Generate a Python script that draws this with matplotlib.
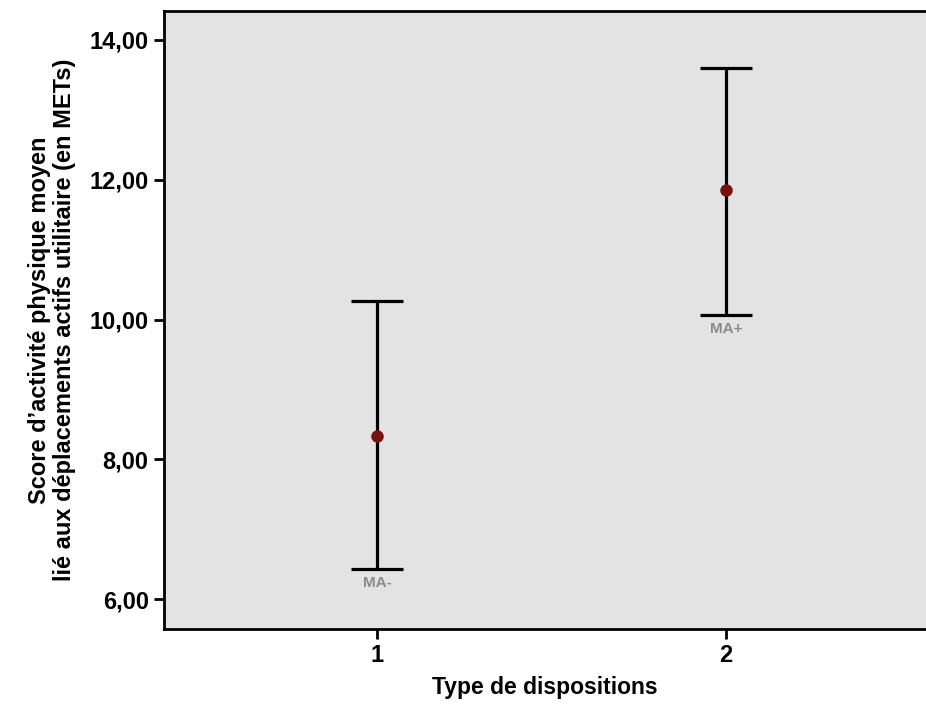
import matplotlib
matplotlib.use("Agg")
import matplotlib.pyplot as plt

groups = [1, 2]
means = [8.34, 11.85]
lower = [6.43, 10.07]
upper = [10.27, 13.60]
labels = ["MA-", "MA+"]
yticks = [6, 8, 10, 12, 14]
ytick_labels = ["6,00", "8,00", "10,00", "12,00", "14,00"]

plt.rcParams['font.family'] = ['Liberation Sans', 'DejaVu Sans']

fig = plt.figure(figsize=(9.26, 7.04), dpi=100)
ax = fig.add_axes([164/926, 75/704, 1 - 164/926, (629-11)/704])
ax.set_facecolor('#e3e3e3')

yerr = [[m - l for m, l in zip(means, lower)], [u - m for m, u in zip(means, upper)]]
ax.errorbar(groups, means, yerr=yerr, fmt='none', ecolor='black', elinewidth=2.3,
            capsize=18.5, capthick=2.3, zorder=2)
ax.plot(groups, means, 'o', color='#7a1010', markersize=8, zorder=3)
for g, l, lab in zip(groups, lower, labels):
    ax.annotate(lab, (g, l), xytext=(0, -5), textcoords='offset points',
                ha='center', va='top', fontsize=11, fontweight='bold', color='#8a8a8a')

ax.set_xlim(0.390, 2.573)
ax.set_ylim(5.571, 14.415)
ax.set_xticks(groups)
ax.set_xticklabels([str(g) for g in groups])
ax.set_yticks(yticks)
ax.set_yticklabels(ytick_labels)
ax.tick_params(axis='both', direction='out', length=7, width=2, labelsize=17, pad=4)
for t in ax.get_xticklabels() + ax.get_yticklabels():
    t.set_fontweight('bold')
for s in ['left', 'top', 'bottom']:
    ax.spines[s].set_linewidth(2)
ax.spines['right'].set_visible(False)

ax.set_xlabel("Type de dispositions", fontsize=16.5, fontweight='bold', labelpad=6)
ax.set_ylabel("Score d\u2019activité physique moyen\nlié aux déplacements actifs utilitaire (en METs)",
              fontsize=17, fontweight='bold', labelpad=10, linespacing=1.1)

fig.savefig("out.png", dpi=100)
